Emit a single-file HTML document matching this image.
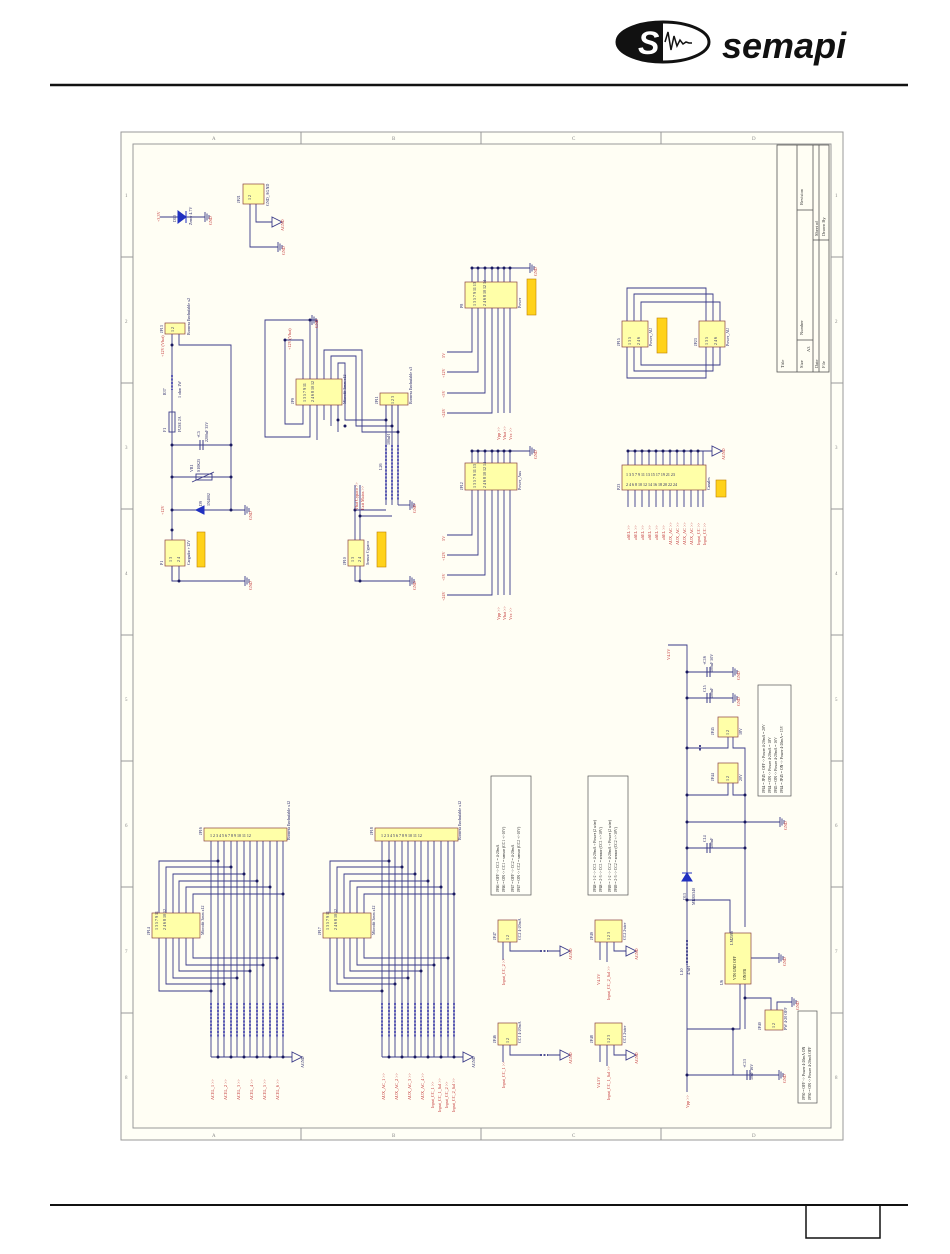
<!DOCTYPE html>
<html><head><meta charset="utf-8"><style>
html,body{margin:0;padding:0;background:#fff;width:950px;height:1254px;overflow:hidden}
svg{display:block}
text{font-family:"Liberation Serif",serif}
</style></head><body>
<svg width="950" height="1254" viewBox="0 0 950 1254" xmlns="http://www.w3.org/2000/svg">
<!-- header -->
<ellipse cx="663" cy="42" rx="46" ry="20" fill="#fff" stroke="#111" stroke-width="3"/>
<path d="M663 22 A46 20 0 0 0 663 62 Z" fill="#111"/>
<text x="638" y="54" style="font-family:'Liberation Sans',sans-serif;font-weight:bold;font-style:italic;font-size:32px" fill="#fff">S</text>
<path d="M665 42 l3 -10 l3 18 l3 -14 l3 10 l3 -6 l3 4 l3 -2 l3 1 l3 0" stroke="#111" stroke-width="1.5" fill="none"/>
<text x="722" y="58" style="font-family:'Liberation Sans',sans-serif;font-weight:bold;font-style:italic;font-size:36px" fill="#111">semapi</text>
<line x1="50" y1="85" x2="908" y2="85" stroke="#111" stroke-width="2.5"/>
<!-- footer -->
<line x1="50" y1="1205" x2="908" y2="1205" stroke="#111" stroke-width="2"/>
<rect x="806" y="1205" width="74" height="33" fill="none" stroke="#111" stroke-width="1.5"/>

<!-- frame -->
<rect x="121" y="132" width="722" height="1008" fill="#fffff6" stroke="#999" stroke-width="1"/>
<rect x="133" y="144" width="698" height="984" fill="#fffef4" stroke="#999" stroke-width="1"/>
<g stroke="#999" stroke-width="1">
<line x1="301" y1="132" x2="301" y2="144"/><line x1="481" y1="132" x2="481" y2="144"/><line x1="661" y1="132" x2="661" y2="144"/>
<line x1="301" y1="1128" x2="301" y2="1140"/><line x1="481" y1="1128" x2="481" y2="1140"/><line x1="661" y1="1128" x2="661" y2="1140"/>
<line x1="121" y1="257" x2="133" y2="257"/><line x1="121" y1="383" x2="133" y2="383"/><line x1="121" y1="509" x2="133" y2="509"/><line x1="121" y1="635" x2="133" y2="635"/><line x1="121" y1="761" x2="133" y2="761"/><line x1="121" y1="887" x2="133" y2="887"/><line x1="121" y1="1013" x2="133" y2="1013"/>
<line x1="831" y1="257" x2="843" y2="257"/><line x1="831" y1="383" x2="843" y2="383"/><line x1="831" y1="509" x2="843" y2="509"/><line x1="831" y1="635" x2="843" y2="635"/><line x1="831" y1="761" x2="843" y2="761"/><line x1="831" y1="887" x2="843" y2="887"/><line x1="831" y1="1013" x2="843" y2="1013"/>
</g>
<g font-size="5" fill="#888">
<text x="212" y="140">A</text><text x="392" y="140">B</text><text x="572" y="140">C</text><text x="752" y="140">D</text>
<text x="212" y="1137">A</text><text x="392" y="1137">B</text><text x="572" y="1137">C</text><text x="752" y="1137">D</text>
<text x="125" y="197">1</text><text x="125" y="323">2</text><text x="125" y="449">3</text><text x="125" y="575">4</text><text x="125" y="701">5</text><text x="125" y="827">6</text><text x="125" y="953">7</text><text x="125" y="1079">8</text>
<text x="835" y="197">1</text><text x="835" y="323">2</text><text x="835" y="449">3</text><text x="835" y="575">4</text><text x="835" y="701">5</text><text x="835" y="827">6</text><text x="835" y="953">7</text><text x="835" y="1079">8</text>
</g>
<!-- title block -->
<g stroke="#555" stroke-width="0.8" fill="none">
<rect x="777" y="145" width="52" height="227"/>
<line x1="797" y1="145" x2="797" y2="372"/><line x1="813" y1="145" x2="813" y2="372"/><line x1="819" y1="145" x2="819" y2="372"/>
<line x1="797" y1="210" x2="813" y2="210"/><line x1="797" y1="340" x2="813" y2="340"/><line x1="813" y1="240" x2="829" y2="240"/>
</g>
<g font-size="4.5" fill="#333">
<text transform="translate(784,368) rotate(-90)">Title</text>
<text transform="translate(803,368) rotate(-90)">Size</text>
<text transform="translate(803,335) rotate(-90)">Number</text>
<text transform="translate(803,205) rotate(-90)">Revision</text>
<text transform="translate(818,368) rotate(-90)">Date</text>
<text transform="translate(825,368) rotate(-90)">File</text>
<text transform="translate(818,236) rotate(-90)">Sheet of</text>
<text transform="translate(825,236) rotate(-90)">Drawn By</text>
<text transform="translate(810,352) rotate(-90)">A3</text>
</g>

<!-- ============ WIRES ============ -->
<g stroke="#3a3a88" stroke-width="0.9" fill="none">
<line x1="160" y1="217" x2="205" y2="217"/>
<path d="M256 204 V222 H272"/><path d="M250 204 V247 H278"/>
<line x1="172" y1="334" x2="172" y2="581"/>
<path d="M179 334 V345 H231 V510"/>
<line x1="172" y1="445" x2="231" y2="445"/>
<line x1="172" y1="477" x2="231" y2="477"/>
<line x1="172" y1="510" x2="245" y2="510"/>
<path d="M172 566 V581 H245"/><line x1="179" y1="566" x2="179" y2="581"/>
<path d="M310 379 V320 H265 V437 H310 V405"/>
<path d="M303 379 V340 H285 V424 H303 V405"/>
<path d="M317 379 V320 H312"/>
<path d="M324 379 V350 H362 V432 H398 V405"/>
<path d="M331 379 V356 H356 V426 H392 V405"/>
<path d="M338 379 V363 H345 V420 H386 V405"/>
<line x1="317" y1="405" x2="317" y2="440"/>
<path d="M324 405 V420"/><path d="M331 405 V426"/><path d="M338 405 V432"/>
<line x1="386" y1="405" x2="386" y2="505"/><line x1="392" y1="405" x2="392" y2="505"/><line x1="398" y1="405" x2="398" y2="505"/>
<path d="M398 505 H410"/>
<path d="M355 540 V510 H386"/><path d="M360 540 V516 H392"/>
<path d="M355 566 V581 H410"/><line x1="360" y1="566" x2="360" y2="581"/>
<line x1="355" y1="510" x2="355" y2="485"/><line x1="360" y1="516" x2="360" y2="485"/>
<line x1="472" y1="268" x2="530" y2="268"/>
<line x1="472" y1="268" x2="472" y2="282"/><line x1="478" y1="268" x2="478" y2="282"/><line x1="485" y1="268" x2="485" y2="282"/><line x1="492" y1="268" x2="492" y2="282"/><line x1="498" y1="268" x2="498" y2="282"/><line x1="504" y1="268" x2="504" y2="282"/><line x1="510" y1="268" x2="510" y2="282"/>
<path d="M472 308 V352 H447"/><path d="M478 308 V372 H447"/><path d="M485 308 V393 H447"/><path d="M492 308 V413 H447"/>
<line x1="498" y1="308" x2="498" y2="413"/><line x1="504" y1="308" x2="504" y2="413"/><line x1="510" y1="308" x2="510" y2="413"/>
<line x1="472" y1="451" x2="530" y2="451"/>
<line x1="472" y1="451" x2="472" y2="463"/><line x1="478" y1="451" x2="478" y2="463"/><line x1="485" y1="451" x2="485" y2="463"/><line x1="492" y1="451" x2="492" y2="463"/><line x1="498" y1="451" x2="498" y2="463"/><line x1="504" y1="451" x2="504" y2="463"/><line x1="510" y1="451" x2="510" y2="463"/>
<path d="M472 490 V535 H447"/><path d="M478 490 V555 H447"/><path d="M485 490 V575 H447"/><path d="M492 490 V595 H447"/>
<line x1="498" y1="490" x2="498" y2="595"/><line x1="504" y1="490" x2="504" y2="595"/><line x1="510" y1="490" x2="510" y2="595"/>
<path d="M627 321 V288 H706 V378 H627 V347"/>
<path d="M634 321 V294 H713 V371 H634 V347"/>
<path d="M641 321 V302 H720 V365 H641 V347"/>
<line x1="706" y1="321" x2="706" y2="347"/>
<line x1="628" y1="451" x2="712" y2="451"/>
<g>
<line x1="628" y1="451" x2="628" y2="465"/><line x1="635" y1="451" x2="635" y2="465"/><line x1="642" y1="451" x2="642" y2="465"/><line x1="649" y1="451" x2="649" y2="465"/><line x1="656" y1="451" x2="656" y2="465"/><line x1="663" y1="451" x2="663" y2="465"/><line x1="670" y1="451" x2="670" y2="465"/><line x1="677" y1="451" x2="677" y2="465"/><line x1="684" y1="451" x2="684" y2="465"/><line x1="691" y1="451" x2="691" y2="465"/><line x1="698" y1="451" x2="698" y2="465"/><line x1="703" y1="451" x2="703" y2="465"/>
<line x1="628" y1="490" x2="628" y2="507"/><line x1="635" y1="490" x2="635" y2="507"/><line x1="642" y1="490" x2="642" y2="507"/><line x1="649" y1="490" x2="649" y2="507"/><line x1="656" y1="490" x2="656" y2="507"/><line x1="663" y1="490" x2="663" y2="507"/><line x1="670" y1="490" x2="670" y2="507"/><line x1="677" y1="490" x2="677" y2="507"/><line x1="684" y1="490" x2="684" y2="507"/><line x1="691" y1="490" x2="691" y2="507"/><line x1="698" y1="490" x2="698" y2="507"/><line x1="703" y1="490" x2="703" y2="507"/>
</g>
</g>

<defs>
<g id="blk" stroke="#3a3a88" stroke-width="0.9" fill="none">
<line x1="211" y1="841" x2="211" y2="1057"/><line x1="218" y1="841" x2="218" y2="1057"/><line x1="224" y1="841" x2="224" y2="1057"/><line x1="231" y1="841" x2="231" y2="1057"/><line x1="237" y1="841" x2="237" y2="1057"/><line x1="244" y1="841" x2="244" y2="1057"/><line x1="250" y1="841" x2="250" y2="1057"/><line x1="257" y1="841" x2="257" y2="1057"/><line x1="263" y1="841" x2="263" y2="1057"/><line x1="270" y1="841" x2="270" y2="1057"/><line x1="277" y1="841" x2="277" y2="1057"/><line x1="283" y1="841" x2="283" y2="1057"/>
<line x1="211" y1="1057" x2="292" y2="1057"/>
<path d="M159 913 V861 H218"/><path d="M166 913 V867 H231"/><path d="M173 913 V874 H244"/><path d="M179 913 V881 H257"/><path d="M186 913 V887 H270"/><path d="M193 913 V894 H283"/>
<path d="M159 938 V991 H211"/><path d="M166 938 V984 H224"/><path d="M173 938 V978 H237"/><path d="M179 938 V971 H250"/><path d="M186 938 V965 H263"/><path d="M193 938 V958 H277"/>
<g stroke-width="1.8" stroke-dasharray="2 1.5" stroke="#4a4ab0">
<line x1="211" y1="1003" x2="211" y2="1037"/><line x1="218" y1="1003" x2="218" y2="1037"/><line x1="224" y1="1003" x2="224" y2="1037"/><line x1="231" y1="1003" x2="231" y2="1037"/><line x1="237" y1="1003" x2="237" y2="1037"/><line x1="244" y1="1003" x2="244" y2="1037"/><line x1="250" y1="1003" x2="250" y2="1037"/><line x1="257" y1="1003" x2="257" y2="1037"/><line x1="263" y1="1003" x2="263" y2="1037"/><line x1="270" y1="1003" x2="270" y2="1037"/><line x1="277" y1="1003" x2="277" y2="1037"/><line x1="283" y1="1003" x2="283" y2="1037"/>
</g>
<g fill="#1a1a60" stroke="none">
<circle cx="218" cy="861" r="1.5"/><circle cx="231" cy="867" r="1.5"/><circle cx="244" cy="874" r="1.5"/><circle cx="257" cy="881" r="1.5"/><circle cx="270" cy="887" r="1.5"/><circle cx="283" cy="894" r="1.5"/>
<circle cx="211" cy="991" r="1.5"/><circle cx="224" cy="984" r="1.5"/><circle cx="237" cy="978" r="1.5"/><circle cx="250" cy="971" r="1.5"/><circle cx="263" cy="965" r="1.5"/><circle cx="277" cy="958" r="1.5"/>
<circle cx="218" cy="1057" r="1.5"/><circle cx="231" cy="1057" r="1.5"/><circle cx="244" cy="1057" r="1.5"/><circle cx="257" cy="1057" r="1.5"/><circle cx="270" cy="1057" r="1.5"/><circle cx="283" cy="1057" r="1.5"/>
</g>
<path d="M292 1052 L302 1057 L292 1062 Z" fill="none" stroke="#3a3a88" stroke-width="0.9"/>
<rect x="204" y="828" width="83" height="13" fill="#ffffa8" stroke="#8b4040" stroke-width="0.7"/>
<rect x="152" y="913" width="48" height="25" fill="#ffffa8" stroke="#8b4040" stroke-width="0.7"/>
</g>
</defs>
<use href="#blk"/>
<use href="#blk" x="171"/>
<g font-size="4" fill="#1a1a60">
<text x="210" y="837">1 2 3 4 5 6 7 8 9 10 11 12</text>
<text x="381" y="837">1 2 3 4 5 6 7 8 9 10 11 12</text>
<text transform="translate(150,935) rotate(-90)">JP14</text>
<text transform="translate(321,935) rotate(-90)">JP17</text>
<text transform="translate(202,835) rotate(-90)">JP16</text>
<text transform="translate(373,835) rotate(-90)">JP18</text>
<text transform="translate(204,935) rotate(-90)">Microfit 3mm x12</text>
<text transform="translate(375,935) rotate(-90)">Microfit 3mm x12</text>
<text transform="translate(290,840) rotate(-90)">Bornera Enchufable x12</text>
<text transform="translate(461,840) rotate(-90)">Bornera Enchufable x12</text>
<text transform="translate(158,930) rotate(-90)">1 3 5 7 9 11</text>
<text transform="translate(166,930) rotate(-90)">2 4 6 8 10 12</text>
<text transform="translate(329,930) rotate(-90)">1 3 5 7 9 11</text>
<text transform="translate(337,930) rotate(-90)">2 4 6 8 10 12</text>
</g>
<g font-size="4.2" fill="#c03030">
<text transform="translate(214,1100) rotate(-90)">ACEL_1 &gt;&gt;</text>
<text transform="translate(227,1100) rotate(-90)">ACEL_2 &gt;&gt;</text>
<text transform="translate(240,1100) rotate(-90)">ACEL_3 &gt;&gt;</text>
<text transform="translate(253,1100) rotate(-90)">ACEL_4 &gt;&gt;</text>
<text transform="translate(266,1100) rotate(-90)">ACEL_5 &gt;&gt;</text>
<text transform="translate(279,1100) rotate(-90)">ACEL_6 &gt;&gt;</text>
<text transform="translate(385,1100) rotate(-90)">AUX_AC_1 &gt;&gt;</text>
<text transform="translate(398,1100) rotate(-90)">AUX_AC_2 &gt;&gt;</text>
<text transform="translate(411,1100) rotate(-90)">AUX_AC_3 &gt;&gt;</text>
<text transform="translate(424,1100) rotate(-90)">AUX_AC_4 &gt;&gt;</text>
<text transform="translate(434,1108) rotate(-90)">Input_CC_1 &gt;&gt;</text>
<text transform="translate(441,1112) rotate(-90)">Input_CC_1_Sal &gt;&gt;</text>
<text transform="translate(448,1108) rotate(-90)">Input_CC_2 &gt;&gt;</text>
<text transform="translate(455,1112) rotate(-90)">Input_CC_2_Sal &gt;&gt;</text>
</g>
<g font-size="4" fill="#1a1a60">
<text transform="translate(304,1068) rotate(-90)">AGND</text><text transform="translate(475,1068) rotate(-90)">AGND</text>
</g>

<g stroke="#3a3a88" stroke-width="0.9" fill="none">
<path d="M503 942 V960"/><path d="M510 942 V951 H540 M548 951 H560"/>
<path d="M503 1045 V1062"/><path d="M510 1045 V1055 H540 M548 1055 H560"/>
<path d="M600 942 V960"/><path d="M607 942 V962"/><path d="M614 942 V951 H626"/>
<path d="M600 1045 V1062"/><path d="M607 1045 V1066"/><path d="M614 1045 V1055 H626"/>
<path d="M668 645 H687 V1092"/>
<line x1="687" y1="672" x2="733" y2="672"/><line x1="687" y1="698" x2="733" y2="698"/>
<path d="M687 748 H728 V737"/><path d="M733 737 V748 H745 V927"/>
<path d="M687 795 H728 V783"/><path d="M733 783 V795 H745"/>
<line x1="687" y1="822" x2="780" y2="822"/>
<line x1="687" y1="848" x2="745" y2="848"/>
<path d="M687 900 H730 V933"/>
<line x1="751" y1="958" x2="779" y2="958"/>
<path d="M740 984 V1029 H687"/>
<path d="M745 984 V998 H771 V1010"/><path d="M777 1010 V1002 H792"/>
<line x1="745" y1="998" x2="745" y2="1029"/>
<line x1="687" y1="1075" x2="779" y2="1075"/>
<line x1="733" y1="1029" x2="733" y2="1075"/>
</g>
<g stroke="#3a3a88" stroke-width="1.8" stroke-dasharray="2 1.5" fill="none">
<line x1="540" y1="951" x2="548" y2="951"/><line x1="540" y1="1055" x2="548" y2="1055"/>
<line x1="687" y1="940" x2="687" y2="965"/>
<line x1="700" y1="745" x2="700" y2="751"/>
</g>
<g fill="#1a1a60">
<circle cx="687" cy="672" r="1.5"/><circle cx="687" cy="698" r="1.5"/><circle cx="687" cy="748" r="1.5"/><circle cx="687" cy="795" r="1.5"/><circle cx="687" cy="822" r="1.5"/><circle cx="687" cy="848" r="1.5"/><circle cx="687" cy="900" r="1.5"/><circle cx="687" cy="1075" r="1.5"/>
<circle cx="745" cy="795" r="1.5"/><circle cx="745" cy="822" r="1.5"/><circle cx="745" cy="848" r="1.5"/><circle cx="745" cy="998" r="1.5"/><circle cx="733" cy="1029" r="1.5"/>
<circle cx="172" cy="345" r="1.5"/><circle cx="172" cy="445" r="1.5"/><circle cx="231" cy="445" r="1.5"/><circle cx="172" cy="477" r="1.5"/><circle cx="231" cy="477" r="1.5"/><circle cx="172" cy="510" r="1.5"/><circle cx="231" cy="510" r="1.5"/><circle cx="172" cy="530" r="1.5"/><circle cx="179" cy="581" r="1.5"/>
<circle cx="310" cy="320" r="1.5"/><circle cx="285" cy="340" r="1.5"/>
<circle cx="355" cy="510" r="1.5"/><circle cx="360" cy="516" r="1.5"/><circle cx="360" cy="581" r="1.5"/>
<circle cx="386" cy="420" r="1.5"/><circle cx="392" cy="426" r="1.5"/><circle cx="398" cy="432" r="1.5"/><circle cx="338" cy="420" r="1.5"/><circle cx="345" cy="426" r="1.5"/>
<circle cx="478" cy="268" r="1.5"/><circle cx="485" cy="268" r="1.5"/><circle cx="492" cy="268" r="1.5"/><circle cx="498" cy="268" r="1.5"/><circle cx="504" cy="268" r="1.5"/><circle cx="510" cy="268" r="1.5"/><circle cx="472" cy="268" r="1.5"/>
<circle cx="478" cy="451" r="1.5"/><circle cx="485" cy="451" r="1.5"/><circle cx="492" cy="451" r="1.5"/><circle cx="498" cy="451" r="1.5"/><circle cx="504" cy="451" r="1.5"/><circle cx="510" cy="451" r="1.5"/><circle cx="472" cy="451" r="1.5"/>
<circle cx="635" cy="451" r="1.5"/><circle cx="642" cy="451" r="1.5"/><circle cx="649" cy="451" r="1.5"/><circle cx="656" cy="451" r="1.5"/><circle cx="663" cy="451" r="1.5"/><circle cx="670" cy="451" r="1.5"/><circle cx="677" cy="451" r="1.5"/><circle cx="684" cy="451" r="1.5"/><circle cx="691" cy="451" r="1.5"/><circle cx="698" cy="451" r="1.5"/><circle cx="628" cy="451" r="1.5"/>
</g>
<g stroke="#4a4ab0" stroke-width="1.8" stroke-dasharray="2 1.5">
<line x1="386" y1="445" x2="386" y2="500"/><line x1="392" y1="445" x2="392" y2="500"/><line x1="398" y1="445" x2="398" y2="500"/>
<line x1="172" y1="375" x2="172" y2="390"/>
</g>
<path d="M178 211 L186 217 L178 223 Z M186 211 V223" fill="#2030c0" stroke="#2030c0" stroke-width="1"/>
<path d="M196 506 L204 510 L196 514 Z M196 506 V514" fill="#2030c0" stroke="#2030c0" stroke-width="1" transform="rotate(180 200 510)"/>
<path d="M682 873 L687 881 L692 873 Z M682 881 H692" fill="#2030c0" stroke="#2030c0" stroke-width="1" transform="rotate(180 687 877)"/>
<rect x="169" y="412" width="6" height="20" fill="none" stroke="#3a3a88" stroke-width="0.9"/>
<rect x="196" y="474" width="16" height="6" fill="none" stroke="#3a3a88" stroke-width="0.9"/>
<path d="M192 482 L214 472" stroke="#3a3a88" stroke-width="0.9"/>
<g stroke="#3a3a88" stroke-width="1">
<line x1="200" y1="440" x2="200" y2="450"/><line x1="203" y1="440" x2="203" y2="450"/>
<line x1="707" y1="667" x2="707" y2="677"/><line x1="710" y1="667" x2="710" y2="677"/>
<line x1="707" y1="693" x2="707" y2="703"/><line x1="710" y1="693" x2="710" y2="703"/>
<line x1="707" y1="843" x2="707" y2="853"/><line x1="710" y1="843" x2="710" y2="853"/>
<line x1="747" y1="1070" x2="747" y2="1080"/><line x1="750" y1="1070" x2="750" y2="1080"/>
</g>
<defs><g id="gnd" stroke="#3a3a88" stroke-width="0.9"><line x1="0" y1="-5" x2="0" y2="5"/><line x1="2" y1="-3.5" x2="2" y2="3.5"/><line x1="4" y1="-2" x2="4" y2="2"/></g>
<path id="agnd" d="M0 -5 L10 0 L0 5 Z" fill="none" stroke="#3a3a88" stroke-width="0.9"/></defs>
<use href="#gnd" x="205" y="217"/><use href="#gnd" x="278" y="247"/><use href="#agnd" x="272" y="222"/>
<use href="#gnd" x="245" y="510"/><use href="#gnd" x="245" y="581"/><use href="#gnd" x="312" y="320"/>
<use href="#gnd" x="410" y="505"/><use href="#gnd" x="410" y="581"/>
<use href="#gnd" x="530" y="268"/><use href="#gnd" x="530" y="451"/><use href="#agnd" x="712" y="451"/>
<use href="#gnd" x="733" y="672"/><use href="#gnd" x="733" y="698"/><use href="#gnd" x="780" y="822"/><use href="#gnd" x="779" y="958"/><use href="#gnd" x="792" y="1002"/><use href="#gnd" x="779" y="1075"/>
<use href="#agnd" x="560" y="951"/><use href="#agnd" x="560" y="1055"/><use href="#agnd" x="626" y="951"/><use href="#agnd" x="626" y="1055"/>

<g fill="#ffffa8" stroke="#8b4040" stroke-width="0.7">
<rect x="243" y="184" width="21" height="20"/>
<rect x="165" y="323" width="20" height="11"/>
<rect x="296" y="379" width="46" height="26"/>
<rect x="380" y="393" width="28" height="12"/>
<rect x="165" y="540" width="20" height="26"/>
<rect x="348" y="540" width="16" height="26"/>
<rect x="465" y="282" width="52" height="26"/>
<rect x="465" y="463" width="52" height="27"/>
<rect x="622" y="321" width="26" height="26"/>
<rect x="699" y="321" width="26" height="26"/>
<rect x="622" y="465" width="84" height="25"/>
<rect x="498" y="920" width="19" height="22"/><rect x="498" y="1023" width="19" height="22"/>
<rect x="595" y="920" width="27" height="22"/><rect x="595" y="1023" width="27" height="22"/>
<rect x="718" y="717" width="20" height="20"/><rect x="718" y="763" width="20" height="20"/>
<rect x="725" y="933" width="26" height="51"/>
<rect x="765" y="1010" width="18" height="20"/>
</g>
<g fill="#ffd21a" stroke="#c08000" stroke-width="0.6">
<rect x="197" y="532" width="8" height="35"/><rect x="377" y="532" width="9" height="35"/>
<rect x="527" y="279" width="9" height="36"/><rect x="657" y="318" width="10" height="35"/><rect x="716" y="480" width="10" height="17"/>
</g>
<g fill="#fffff8" stroke="#555" stroke-width="0.7">
<rect x="491" y="776" width="40" height="119"/><rect x="588" y="776" width="40" height="119"/>
<rect x="758" y="685" width="33" height="111"/><rect x="798" y="1011" width="19" height="92"/>
</g>
<g font-size="3.8" fill="#222">
<text transform="translate(499,892) rotate(-90)">JP46 = OFF -&gt; CC1 = 4-20mA</text>
<text transform="translate(505,892) rotate(-90)">JP46 = ON -&gt; CC1 = sensor (CC1 +/-10V)</text>
<text transform="translate(514,892) rotate(-90)">JP47 = OFF -&gt; CC2 = 4-20mA</text>
<text transform="translate(520,892) rotate(-90)">JP47 = ON -&gt; CC2 = sensor (CC2 +/-10V)</text>
<text transform="translate(596,892) rotate(-90)">JP48 = 1-2 -&gt; CC1 = 4-20mA + Power (2 wire)</text>
<text transform="translate(602,892) rotate(-90)">JP48 = 2-3 -&gt; CC1 = sensor (CC1 +/-10V)</text>
<text transform="translate(611,892) rotate(-90)">JP49 = 1-2 -&gt; CC2 = 4-20mA + Power (2 wire)</text>
<text transform="translate(617,892) rotate(-90)">JP49 = 2-3 -&gt; CC2 = sensor (CC2 +/-10V)</text>
<text transform="translate(765,793) rotate(-90)">JP44 = JP45 = OFF -&gt; Power 4-20mA = 20V</text>
<text transform="translate(771,793) rotate(-90)">JP44 = ON -&gt; Power 4-20mA = 18V</text>
<text transform="translate(777,793) rotate(-90)">JP45 = ON -&gt; Power 4-20mA = 16V</text>
<text transform="translate(783,793) rotate(-90)">JP44 = JP45 = ON -&gt; Power 4-20mA = 15V</text>
<text transform="translate(805,1100) rotate(-90)">JP30 = OFF -&gt; Power 4-20mA ON</text>
<text transform="translate(811,1100) rotate(-90)">JP30 = ON -&gt; Power 4-20mA OFF</text>
<text transform="translate(736,980) rotate(-90)">VIN   GND   OFF</text>
<text transform="translate(746,980) rotate(-90)">ON    FB</text>
</g>
<g font-size="4" fill="#1a1a60">
<text transform="translate(251,200) rotate(-90)">1 2</text>
<text transform="translate(174,332) rotate(-90)">1 2</text>
<text transform="translate(394,404) rotate(-90)">1 2 3</text>
<text transform="translate(306,402) rotate(-90)">1 3 5 7 9 11</text><text transform="translate(314,402) rotate(-90)">2 4 6 8 10 12</text>
<text transform="translate(172,562) rotate(-90)">1 3</text><text transform="translate(180,562) rotate(-90)">2 4</text>
<text transform="translate(354,562) rotate(-90)">1 3</text><text transform="translate(361,562) rotate(-90)">2 4</text>
<text transform="translate(476,306) rotate(-90)">1 3 5 7 9 11 13</text><text transform="translate(486,306) rotate(-90)">2 4 6 8 10 12 14</text>
<text transform="translate(476,488) rotate(-90)">1 3 5 7 9 11 13</text><text transform="translate(486,488) rotate(-90)">2 4 6 8 10 12 14</text>
<text transform="translate(631,345) rotate(-90)">1 3 5</text><text transform="translate(640,345) rotate(-90)">2 4 6</text>
<text transform="translate(708,345) rotate(-90)">1 3 5</text><text transform="translate(717,345) rotate(-90)">2 4 6</text>
<text x="626" y="476">1 3 5 7 9 11 13 15 17 19 21 23</text>
<text x="626" y="486">2 4 6 8 10 12 14 16 18 20 22 24</text>
<text transform="translate(509,940) rotate(-90)">1 2</text><text transform="translate(509,1043) rotate(-90)">1 2</text>
<text transform="translate(610,940) rotate(-90)">1 2 3</text><text transform="translate(610,1043) rotate(-90)">1 2 3</text>
<text transform="translate(729,735) rotate(-90)">1 2</text><text transform="translate(729,781) rotate(-90)">1 2</text><text transform="translate(775,1028) rotate(-90)">1 2</text>
<text transform="translate(240,203) rotate(-90)">JP21</text><text transform="translate(269,206) rotate(-90)">GND_AGND</text>
<text transform="translate(163,333) rotate(-90)">JP13</text><text transform="translate(190,335) rotate(-90)">Bornera Enchufable x2</text>
<text transform="translate(294,404) rotate(-90)">JP9</text><text transform="translate(346,404) rotate(-90)">Microfit 3mm x12</text>
<text transform="translate(378,404) rotate(-90)">JP11</text><text transform="translate(412,404) rotate(-90)">Bornera Enchufable x3</text>
<text transform="translate(163,565) rotate(-90)">P1</text><text transform="translate(190,565) rotate(-90)">Cargador +12V</text>
<text transform="translate(346,565) rotate(-90)">JP10</text><text transform="translate(369,565) rotate(-90)">Sensor Cypaco</text>
<text transform="translate(463,308) rotate(-90)">P8</text><text transform="translate(521,308) rotate(-90)">Power</text>
<text transform="translate(463,490) rotate(-90)">JP12</text><text transform="translate(521,490) rotate(-90)">Power_Aux</text>
<text transform="translate(620,346) rotate(-90)">JP15</text><text transform="translate(652,346) rotate(-90)">Power_AU</text>
<text transform="translate(697,346) rotate(-90)">JP23</text><text transform="translate(729,346) rotate(-90)">Power_AU</text>
<text transform="translate(620,490) rotate(-90)">P23</text><text transform="translate(710,490) rotate(-90)">Canales</text>
<text transform="translate(176,222) rotate(-90)">D10</text><text transform="translate(192,225) rotate(-90)">Zener 4.7V</text>
<text transform="translate(166,395) rotate(-90)">R37</text><text transform="translate(181,398) rotate(-90)">1 ohm 1W</text>
<text transform="translate(166,432) rotate(-90)">F1</text><text transform="translate(181,432) rotate(-90)">FUSE 2A</text>
<text transform="translate(200,438) rotate(-90)">+C5</text><text transform="translate(208,442) rotate(-90)">2200uF 35V</text>
<text transform="translate(193,472) rotate(-90)">VR1</text><text transform="translate(200,472) rotate(-90)">S10K25</text>
<text transform="translate(202,506) rotate(-90)">D9</text><text transform="translate(210,506) rotate(-90)">1N4002</text>
<text transform="translate(382,470) rotate(-90)">L26</text><text transform="translate(390,445) rotate(-90)">100uH</text>
<text transform="translate(686,900) rotate(-90)">D13</text><text transform="translate(695,905) rotate(-90)">MBRS340</text>
<text transform="translate(683,975) rotate(-90)">L10</text><text transform="translate(690,975) rotate(-90)">47uH</text>
<text transform="translate(723,985) rotate(-90)">U6</text><text transform="translate(733,945) rotate(-90)">LM2596</text>
<text transform="translate(714,735) rotate(-90)">JP45</text><text transform="translate(742,735) rotate(-90)">18V</text>
<text transform="translate(714,781) rotate(-90)">JP44</text><text transform="translate(742,781) rotate(-90)">20V</text>
<text transform="translate(761,1030) rotate(-90)">JP40</text><text transform="translate(787,1030) rotate(-90)">PW 4-20 OFF</text>
<text transform="translate(496,940) rotate(-90)">JP47</text><text transform="translate(521,940) rotate(-90)">CC2 4-20mA</text>
<text transform="translate(496,1043) rotate(-90)">JP46</text><text transform="translate(521,1043) rotate(-90)">CC1 4-20mA</text>
<text transform="translate(593,940) rotate(-90)">JP49</text><text transform="translate(626,940) rotate(-90)">CC2 2wire</text>
<text transform="translate(593,1043) rotate(-90)">JP48</text><text transform="translate(626,1043) rotate(-90)">CC1 2wire</text>
<text transform="translate(706,665) rotate(-90)">+C16</text><text transform="translate(713,672) rotate(-90)">100uF 50V</text>
<text transform="translate(706,692) rotate(-90)">C15</text><text transform="translate(713,698) rotate(-90)">100nF</text>
<text transform="translate(706,842) rotate(-90)">C14</text><text transform="translate(713,848) rotate(-90)">100nF</text>
<text transform="translate(746,1068) rotate(-90)">+C13</text><text transform="translate(753,1080) rotate(-90)">10uF 16V</text>
</g>
<g font-size="4.2" fill="#c03030">
<text transform="translate(160,222) rotate(-90)">+3.3V</text>
<text transform="translate(164,357) rotate(-90)">+12V (Vbat)</text>
<text transform="translate(164,515) rotate(-90)">+12V</text>
<text transform="translate(291,350) rotate(-90)">+12V (Vbat)</text>
<text transform="translate(358,510) rotate(-90)">Vbat Cypaco &gt;&gt;</text>
<text transform="translate(364,510) rotate(-90)">Exit Mains &gt;&gt;</text>
<text transform="translate(445,358) rotate(-90)">5V</text><text transform="translate(445,378) rotate(-90)">+12V</text><text transform="translate(445,398) rotate(-90)">+5V</text><text transform="translate(445,418) rotate(-90)">+24V</text>
<text transform="translate(445,541) rotate(-90)">5V</text><text transform="translate(445,561) rotate(-90)">+12V</text><text transform="translate(445,581) rotate(-90)">+5V</text><text transform="translate(445,601) rotate(-90)">+24V</text>
<text transform="translate(500,440) rotate(-90)">Vpp &gt;&gt;</text><text transform="translate(506,440) rotate(-90)">Vbat &gt;&gt;</text><text transform="translate(512,440) rotate(-90)">Vcc &gt;&gt;</text>
<text transform="translate(500,620) rotate(-90)">Vpp &gt;&gt;</text><text transform="translate(506,620) rotate(-90)">Vbat &gt;&gt;</text><text transform="translate(512,620) rotate(-90)">Vcc &gt;&gt;</text>
<text transform="translate(630,540) rotate(-90)">aSEL &gt;&gt;</text><text transform="translate(637,540) rotate(-90)">aSEL &gt;&gt;</text><text transform="translate(644,540) rotate(-90)">aSEL &gt;&gt;</text><text transform="translate(651,540) rotate(-90)">aSEL &gt;&gt;</text><text transform="translate(658,540) rotate(-90)">aSEL &gt;&gt;</text><text transform="translate(665,540) rotate(-90)">aSEL &gt;&gt;</text>
<text transform="translate(672,545) rotate(-90)">AUX_AC &gt;&gt;</text><text transform="translate(679,545) rotate(-90)">AUX_AC &gt;&gt;</text><text transform="translate(686,545) rotate(-90)">AUX_AC &gt;&gt;</text><text transform="translate(693,545) rotate(-90)">AUX_AC &gt;&gt;</text><text transform="translate(700,545) rotate(-90)">Input_CC &gt;&gt;</text><text transform="translate(706,545) rotate(-90)">Input_CC &gt;&gt;</text>
<text transform="translate(505,985) rotate(-90)">Input_CC_2 &gt;&gt;</text><text transform="translate(505,1088) rotate(-90)">Input_CC_1 &gt;&gt;</text>
<text transform="translate(600,985) rotate(-90)">V4.5V</text><text transform="translate(610,1000) rotate(-90)">Input_CC_2_Sal &gt;&gt;</text>
<text transform="translate(600,1088) rotate(-90)">V4.5V</text><text transform="translate(610,1100) rotate(-90)">Input_CC_1_Sal &gt;&gt;</text>
<text transform="translate(670,660) rotate(-90)">V4.5V</text>
<text transform="translate(689,1108) rotate(-90)">Vpp &gt;&gt;</text>
</g>
<g font-size="4" fill="#c03030">
<text transform="translate(252,590) rotate(-90)">GND</text><text transform="translate(252,520) rotate(-90)">GND</text><text transform="translate(212,225) rotate(-90)">GND</text>
<text transform="translate(285,255) rotate(-90)">GND</text><text transform="translate(284,231) rotate(-90)">AGND</text>
<text transform="translate(318,328) rotate(-90)">GND</text><text transform="translate(416,513) rotate(-90)">GND</text><text transform="translate(416,590) rotate(-90)">GND</text>
<text transform="translate(537,276) rotate(-90)">GND</text><text transform="translate(537,459) rotate(-90)">GND</text><text transform="translate(725,460) rotate(-90)">AGND</text>
<text transform="translate(740,680) rotate(-90)">GND</text><text transform="translate(740,706) rotate(-90)">GND</text><text transform="translate(787,830) rotate(-90)">GND</text><text transform="translate(786,966) rotate(-90)">GND</text><text transform="translate(799,1010) rotate(-90)">GND</text><text transform="translate(786,1083) rotate(-90)">GND</text>
<text transform="translate(572,960) rotate(-90)">AGND</text><text transform="translate(572,1064) rotate(-90)">AGND</text><text transform="translate(638,960) rotate(-90)">AGND</text><text transform="translate(638,1064) rotate(-90)">AGND</text>
</g>
</svg>
</body></html>
